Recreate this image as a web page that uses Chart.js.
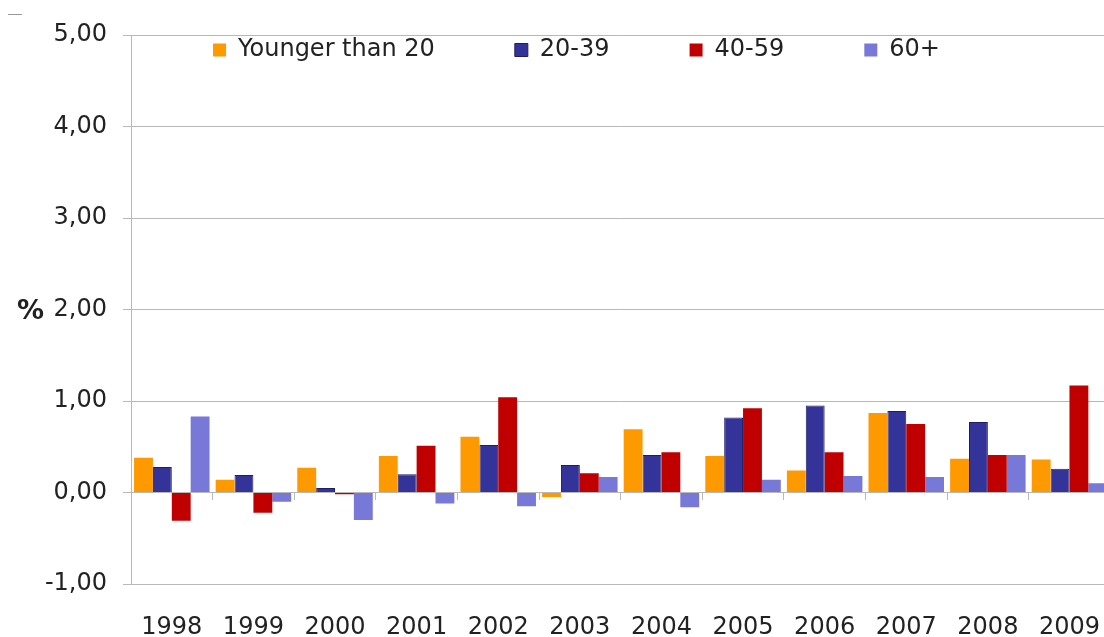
<!DOCTYPE html>
<html>
<head>
<meta charset="utf-8">
<script src="https://cdn.jsdelivr.net/npm/chart.js@4.4.1/dist/chart.umd.min.js"></script>
<style>
  html, body { margin: 0; padding: 0; background: #fff; overflow: hidden; }
  #wrap { position: relative; width: 1104px; height: 637px; overflow: hidden; }
  #chart { position: absolute; left: 0; top: 0; }
  #pct { position: absolute; left: 17px; top: 294px; font: bold 27px "DejaVu Sans", sans-serif; color: #222; }
  #dash { position: absolute; left: 8px; top: 14px; width: 14px; height: 1px; background: #999; }
</style>
</head>
<body>
<div id="wrap">
  <canvas id="chart" width="1129" height="637"></canvas>
  <div id="pct">%</div>
  <div id="dash"></div>
</div>
<script>
const years = ['1998', '1999', '2000', '2001', '2002', '2003', '2004', '2005', '2006', '2007', '2008', '2009'];
const seriesNames = ['Younger than 20', '20-39', '40-59', '60+'];
const under20 = [0.38, 0.14, 0.27, 0.40, 0.61, -0.05, 0.69, 0.40, 0.24, 0.87, 0.37, 0.36];
const age20to39 = [0.28, 0.19, 0.05, 0.20, 0.52, 0.30, 0.41, 0.82, 0.95, 0.89, 0.77, 0.26];
const age40to59 = [-0.31, -0.22, -0.02, 0.51, 1.04, 0.21, 0.44, 0.92, 0.44, 0.75, 0.41, 1.17];
const age60plus = [0.83, -0.10, -0.30, -0.12, -0.15, 0.17, -0.16, 0.14, 0.18, 0.17, 0.41, 0.10];
const yTicks = [-1, 0, 1, 2, 3, 4, 5];

Chart.defaults.font.family = '"DejaVu Sans", Verdana, sans-serif';
Chart.defaults.color = '#222';

const gridGray = '#b8b8b8';

// legend sits inside the plot area, so it takes no layout room
const legendInside = {
    id: 'legendInside',
    beforeInit(chart) {
        const fit = chart.legend.fit;
        chart.legend.fit = function () {
            fit.call(this);
            this.height = 0;
        };
    },
    afterLayout(chart) {
        const lg = chart.legend;
        lg.top = -42;
        lg.bottom = 80;
        lg.left += 12;
        lg.right += 12;
    }
};

new Chart(document.getElementById('chart'), {
    type: 'bar',
    data: {
        labels: years,
        datasets: [
            { label: seriesNames[0], data: under20, backgroundColor: '#ff9900' },
            { label: seriesNames[1], data: age20to39, backgroundColor: '#333399', borderColor: '#1e1e66', borderWidth: 1 },
            { label: seriesNames[2], data: age40to59, backgroundColor: '#c00000' },
            { label: seriesNames[3], data: age60plus, backgroundColor: '#7878d8' }
        ]
    },
    options: {
        responsive: false,
        animation: false,
        devicePixelRatio: 1,
        categoryPercentage: 0.925,
        barPercentage: 1.0,
        layout: { padding: { top: 35, left: 0, right: 0, bottom: 0 } },
        plugins: {
            tooltip: { enabled: false },
            legend: {
                position: 'top',
                labels: {
                    boxWidth: 13,
                    boxHeight: 13,
                    padding: 80,
                    color: '#222',
                    font: { size: 24 }
                }
            }
        },
        scales: {
            x: {
                type: 'category',
                offset: true,
                grid: { display: false, drawTicks: false },
                border: { display: false },
                ticks: { padding: 29, font: { size: 24 }, color: '#222', maxRotation: 0, autoSkip: false },
                afterFit(s) { s.height = 53; }
            },
            x0: {
                type: 'category',
                axis: 'x',
                labels: years,
                position: { y: 0 },
                offset: true,
                grid: { offset: true, drawOnChartArea: false, drawTicks: true, tickLength: 7, color: gridGray },
                border: { display: true, color: gridGray, width: 1 },
                ticks: { display: false }
            },
            y: {
                min: -1,
                max: 5,
                afterBuildTicks(s) { s.ticks = yTicks.map(v => ({ value: v })); },
                grid: { color: gridGray, tickLength: 8 },
                border: { display: true, color: gridGray, width: 1 },
                ticks: {
                    padding: 16,
                    font: { size: 24 },
                    color: '#222',
                    callback: v => v.toFixed(2).replace('.', ',')
                },
                afterFit(s) { s.width = 131; }
            }
        }
    },
    plugins: [legendInside]
});
</script>
</body>
</html>
